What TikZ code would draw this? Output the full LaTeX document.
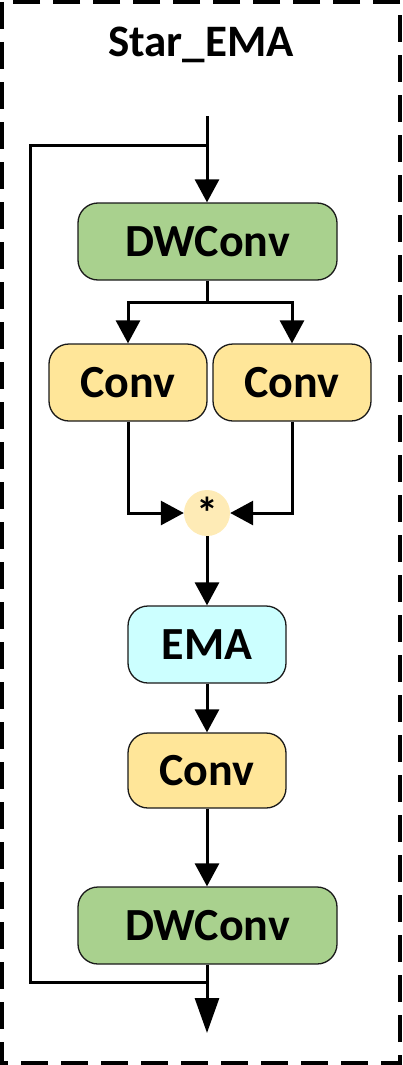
\documentclass[tikz,border=0pt]{standalone}
\usepackage{fontspec}
\setmainfont{Carlito}
\usetikzlibrary{arrows.meta}
\definecolor{dwgreen}{HTML}{A9D18E}
\definecolor{convyel}{HTML}{FFE699}
\definecolor{emacyan}{HTML}{CCFFFF}
\definecolor{mulyel}{HTML}{FEEBB6}
\definecolor{bordergray}{HTML}{1A1A1A}
\begin{document}
\begin{tikzpicture}[x=1pt,y=-1pt,
  blk/.style={draw=bordergray,line width=1.3pt,rounded corners=20pt,inner sep=0pt,
    font=\fontsize{46}{50}\selectfont\bfseries},
  conn/.style={line width=3pt},
  arr/.style={conn,-{Triangle[length=23pt,width=24pt]}},
  bigarr/.style={conn,-{Triangle[length=35pt,width=24pt]}},
  mul/.style={circle,fill=mulyel,minimum size=46pt,inner sep=0pt,font=\fontsize{44}{46}\selectfont\bfseries}]
\useasboundingbox (0,0) rectangle (402,1065);
\draw[line width=4pt,dash pattern=on 27pt off 13pt] (2,2) rectangle (400,1063);
\node[font=\fontsize{45}{48}\selectfont\bfseries] (title) at (201,45) {Star\_EMA};

\node[blk,fill=dwgreen,minimum width=259pt,minimum height=77pt] (dw1) at (207.5,241.5) {DWConv};
\node[blk,fill=convyel,minimum width=158pt,minimum height=77pt] (c1) at (128,382.5) {Conv};
\node[blk,fill=convyel,minimum width=158pt,minimum height=77pt] (c2) at (292,382.5) {Conv};
\node[mul] (m) at (207,513) {\raisebox{-10pt}{*}};
\node[blk,fill=emacyan,minimum width=158pt,minimum height=77pt] (ema) at (207,644.5) {EMA};
\node[blk,fill=convyel,minimum width=158pt,minimum height=75pt] (c3) at (207,770.5) {Conv};
\node[blk,fill=dwgreen,minimum width=259pt,minimum height=77pt] (dw2) at (207.5,925.5) {DWConv};

\coordinate (in) at (207,116);
\coordinate (j1) at (207,145);
\coordinate (l1) at (30,145);
\coordinate (l2) at (30,982);
\coordinate (j2) at (207,982);
\coordinate (out) at (207,1033);
\coordinate (s) at (207,302);

\draw[arr] (in) -- (dw1.north -| in);
\draw[conn,line join=miter] (j1) -- (l1) -- (l2) -- (j2);
\draw[conn] (dw1.south -| s) -- (s);
\draw[arr] (s) -| (c1.north);
\draw[arr] (s) -| (c2.north);
\draw[arr] (c1.south) |- (m.west);
\draw[arr] (c2.south) |- (m.east);
\draw[arr] (m.south) -- (ema.north);
\draw[arr] (ema.south) -- (c3.north);
\draw[arr] (c3.south) -- (dw2.north -| c3.south);
\draw[bigarr] (dw2.south -| out) -- (out);
\end{tikzpicture}
\end{document}
